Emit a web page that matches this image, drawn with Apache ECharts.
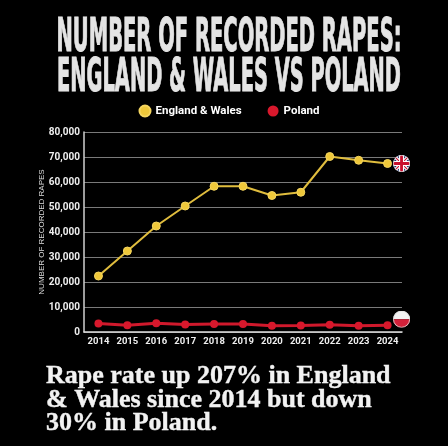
<!DOCTYPE html>
<html><head><meta charset="utf-8">
<script src="https://cdn.jsdelivr.net/npm/echarts@6/dist/echarts.min.js"></script>
<style>html,body{margin:0;padding:0;background:#000;}#c{width:448px;height:446px;}</style>
</head><body><div id="c"></div>
<script>
const years = ['2014','2015','2016','2017','2018','2019','2020','2021','2022','2023','2024'];
const englandWales = [22400, 32400, 42400, 50400, 58300, 58300, 54600, 55900, 70200, 68700, 67400];
const poland = [3400, 2700, 3500, 3000, 3200, 3200, 2500, 2600, 2900, 2500, 2700];
const yTicks = [0, 10000, 20000, 30000, 40000, 50000, 60000, 70000, 80000];
const titleLines = ['NUMBER OF RECORDED RAPES:', 'ENGLAND & WALES VS POLAND'];
const footnote = ['Rape rate up 207% in England', '& Wales since 2014 but down', '30% in Poland.'];

const ukSvg = "<svg xmlns='http://www.w3.org/2000/svg' viewBox='0 0 60 60'><defs><clipPath id='c'><circle cx='30' cy='30' r='30'/></clipPath></defs><g clip-path='url(#c)'><rect width='60' height='60' fill='#1b2a6b'/><path d='M0,0 L60,60 M60,0 L0,60' stroke='#fff' stroke-width='12'/><path d='M0,0 L60,60 M60,0 L0,60' stroke='#c8102e' stroke-width='4'/><path d='M30,0 V60 M0,30 H60' stroke='#fff' stroke-width='18'/><path d='M30,0 V60 M0,30 H60' stroke='#c8102e' stroke-width='10'/></g><circle cx='30' cy='30' r='28.5' fill='none' stroke='#ddd' stroke-width='3'/></svg>";
const plSvg = "<svg xmlns='http://www.w3.org/2000/svg' viewBox='0 0 60 60'><defs><clipPath id='c'><circle cx='30' cy='30' r='30'/></clipPath></defs><g clip-path='url(#c)'><rect width='60' height='30' fill='#f2f2f2'/><rect y='30' width='60' height='30' fill='#d4213a'/></g><circle cx='30' cy='30' r='28.5' fill='none' stroke='#ddd' stroke-width='3'/></svg>";
const img = s => 'image://data:image/svg+xml;charset=utf-8,' + encodeURIComponent(s);

const sans = 'Roboto, "Liberation Sans", "DejaVu Sans", sans-serif';
const titleFont = 'bold 46px "DejaVu Sans Condensed", "DejaVu Sans", sans-serif';
const ctx = document.createElement('canvas').getContext('2d');
ctx.font = titleFont;
const fitScale = (t, w) => w / ctx.measureText(t).width;

const chart = echarts.init(document.getElementById('c'));
chart.setOption({
  backgroundColor: '#000',
  animation: false,
  graphic: [
    {type:'text', x:229, y:39, scaleX: fitScale(titleLines[0], 345), style:{text:titleLines[0], font:titleFont, fill:'#e4e4e4', stroke:'#e4e4e4', lineWidth:1, align:'center', verticalAlign:'middle'}},
    {type:'text', x:229, y:79, scaleX: fitScale(titleLines[1], 344), style:{text:titleLines[1], font:titleFont, fill:'#e4e4e4', stroke:'#e4e4e4', lineWidth:1, align:'center', verticalAlign:'middle'}},
    {type:'text', x:46, y:365, style:{text:footnote.join('\n'), font:'bold 26px "Liberation Serif", "DejaVu Serif", serif', lineHeight:23.3, fill:'#f2f2f2', stroke:'#f2f2f2', lineWidth:0.4, align:'left', verticalAlign:'top'}}
  ],
  legend: {
    top: 99.5, left: 133.5, itemGap: 26, itemWidth: 11, itemHeight: 11,
    icon: 'circle',
    textStyle: {color:'#fff', fontSize:11.5, fontWeight:'bold', fontFamily: sans},
    data: ['England & Wales', 'Poland']
  },
  grid: {left: 84, right: 46, top: 132, bottom: 114},
  xAxis: {
    type: 'category', data: years, boundaryGap: true,
    axisLine: {lineStyle: {color:'#e0e0e0', width: 1.5}},
    axisTick: {show:false},
    axisLabel: {interval: 0, color:'#eee', fontSize:9.5, fontWeight:'bold', fontFamily: sans, margin:5}
  },
  yAxis: {
    type: 'value', min: yTicks[0], max: yTicks[yTicks.length-1], interval: yTicks[1] - yTicks[0],
    name: 'NUMBER OF RECORDED RAPES', nameLocation: 'middle', nameGap: 38, nameRotate: 90,
    nameMoveOverlap: false,
    nameTextStyle: {color:'#ddd', fontSize:8, fontFamily: '"Liberation Sans", "DejaVu Sans", sans-serif'},
    axisLine: {show:true, lineStyle: {color:'#d0d0d0', width: 1.5}},
    axisTick: {show:false},
    splitLine: {lineStyle: {color:'#7a7a7a', width: 1}},
    axisLabel: {color:'#eee', fontSize:10, fontWeight:'bold', fontFamily: sans, margin:4,
      formatter: v => v.toLocaleString('en-US')}
  },
  series: [
    {name:'England & Wales', type:'line', data: englandWales, color:'#ecc53c',
     lineStyle:{width:2, color:'#e0bd3e'}, symbol:'circle', symbolSize:8,
     itemStyle:{color:'#efc83a', borderColor:'#f5d660', borderWidth:1},
     markPoint:{symbol: img(ukSvg), symbolSize:17, symbolOffset:[14,0], label:{show:false},
       data:[{coord:[years[years.length-1], englandWales[englandWales.length-1]]}]}},
    {name:'Poland', type:'line', data: poland, color:'#e0152d',
     lineStyle:{width:3, color:'#d0192c'}, symbol:'circle', symbolSize:8,
     itemStyle:{color:'#d8182c'},
     markPoint:{symbol: img(plSvg), symbolSize:17, symbolOffset:[14,-6], label:{show:false},
       data:[{coord:[years[years.length-1], poland[poland.length-1]]}]}}
  ]
});
</script></body></html>
